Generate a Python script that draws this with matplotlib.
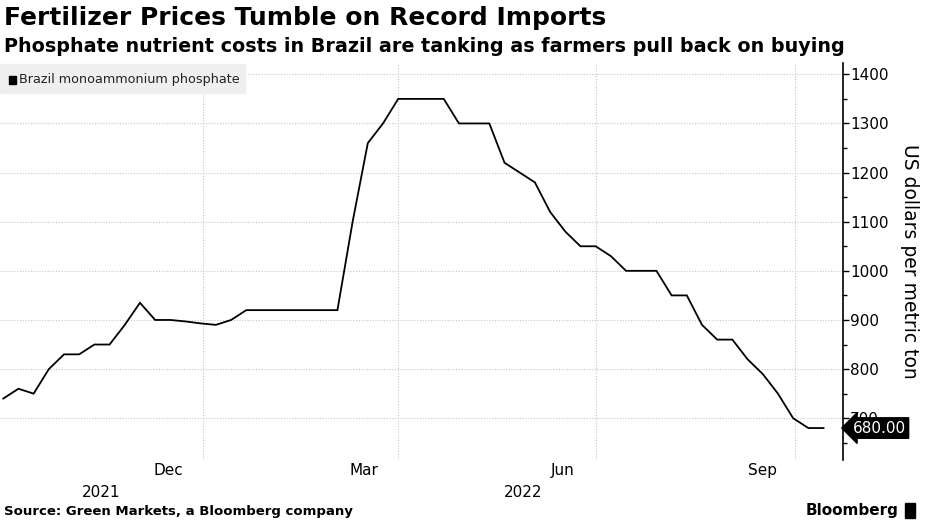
import matplotlib
matplotlib.use("Agg")
import matplotlib.pyplot as plt
import matplotlib.dates as mdates
import numpy as np
import pandas as pd
from matplotlib.ticker import MultipleLocator, NullFormatter

# weekly prices, US$ per metric ton
start_date = "2021-10-01"
prices = [740, 760, 750, 800, 830, 830, 850, 850, 890, 935,
          900, 900, 897, 893, 890, 900, 920, 920, 920, 920,
          920, 920, 920, 1100, 1260, 1300, 1350, 1350, 1350, 1350,
          1300, 1300, 1300, 1220, 1200, 1180, 1120, 1080, 1050, 1050,
          1030, 1000, 1000, 1000, 950, 950, 890, 860, 860, 820,
          790, 750, 700, 680, 680]
series_name = "Brazil monoammonium phosphate"
month_labels = ["Dec", "Mar", "Jun", "Sep"]
month_label_dates = ["2021-12-16", "2022-03-16", "2022-06-16", "2022-09-16"]
grid_dates = ["2022-01-01", "2022-04-01", "2022-07-01", "2022-10-01"]
years = ["2021", "2022"]

title = "Fertilizer Prices Tumble on Record Imports"
subtitle = "Phosphate nutrient costs in Brazil are tanking as farmers pull back on buying"
source = "Source: Green Markets, a Bloomberg company"
ylabel = "US dollars per metric ton"

dates = pd.date_range(start_date, periods=len(prices), freq="7D")

plt.rcParams['font.family'] = ['DejaVu Sans']

fig = plt.figure(figsize=(9.3, 5.23), dpi=100)
ax = fig.add_axes([0.0, 0.1205, 0.9065, 0.759])

ax.plot(dates, prices, color="black", lw=1.3, solid_joinstyle="miter")

x0 = pd.Timestamp("2021-09-29 12:00")
x1 = pd.Timestamp("2022-10-23")
ax.set_xlim(x0, x1)
ax.set_ylim(615, 1423)

# y axis on the right
ax.yaxis.tick_right()
ax.yaxis.set_label_position("right")
ax.yaxis.set_major_locator(MultipleLocator(100))
ax.yaxis.set_minor_locator(MultipleLocator(50))
ax.tick_params(axis="y", which="major", length=4, width=1, labelsize=11, pad=1, colors="black")
ax.tick_params(axis="y", which="minor", length=3, width=1)
ax.set_ylabel(ylabel, rotation=-90, fontsize=13.5, labelpad=22)

# x axis: gridlines at quarter boundaries, labels mid-month
ax.set_xticks(pd.to_datetime(grid_dates))
ax.xaxis.set_major_formatter(NullFormatter())
ax.set_xticks(pd.to_datetime(month_label_dates), minor=True)
ax.set_xticklabels(month_labels, minor=True)
ax.tick_params(axis="x", which="both", length=0, labelsize=11, pad=2)

ax.grid(True, which="major", axis="both", color="#c8c8c8", ls=(0, (1, 1.5)), lw=0.8)
for s in ["top", "left", "bottom"]:
    ax.spines[s].set_visible(False)
ax.spines["right"].set_linewidth(1.2)

# year labels, centred on each year's visible span
jan1 = pd.Timestamp("2022-01-01")
year_centres = [x0 + (jan1 - x0) / 2, jan1 + (x1 - jan1) / 2]
for yr, xc in zip(years, year_centres):
    ax.annotate(yr, xy=(mdates.date2num(xc), 0), xycoords=("data", "axes fraction"),
                xytext=(0, -23.5), textcoords="offset points", ha="center", va="center",
                fontsize=11)

# legend box
fig.patches.append(plt.Rectangle((0.0, 1 - 93 / 523), 245 / 930, 29 / 523,
                                 transform=fig.transFigure, color="#efefef", zorder=0))
fig.patches.append(plt.Rectangle((9 / 930, 1 - 84 / 523), 7 / 930, 8 / 523,
                                 transform=fig.transFigure, color="black", zorder=1))
fig.text(19 / 930, 1 - 80 / 523, series_name, fontsize=9.2, va="center", ha="left", color="#222222")

# last value tag
last = prices[-1]
ax.annotate(f"{last:.2f}", xy=(1.0, last), xycoords=("axes fraction", "data"),
            xytext=(7, 0), textcoords="offset points", ha="left", va="center",
            fontsize=11, color="white", zorder=5,
            bbox=dict(boxstyle="larrow,pad=0.18", fc="black", ec="black"))

fig.text(0.004, 1 - 18 / 523, title, fontsize=18, fontweight="bold", va="center", ha="left")
fig.text(0.004, 1 - 46 / 523, subtitle, fontsize=13.8, fontweight="bold", va="center", ha="left")
fig.text(0.004, 1 - 512 / 523, source, fontsize=9.5, fontweight="bold", va="center", ha="left")
fig.text(898 / 930, 1 - 510 / 523, "Bloomberg", fontsize=11, fontweight="bold", va="center", ha="right")
fig.patches.append(plt.Rectangle((905 / 930, 1 - 518 / 523), 10 / 930, 15 / 523,
                                 transform=fig.transFigure, color="black", zorder=1))

fig.savefig("out.png", dpi=100)
